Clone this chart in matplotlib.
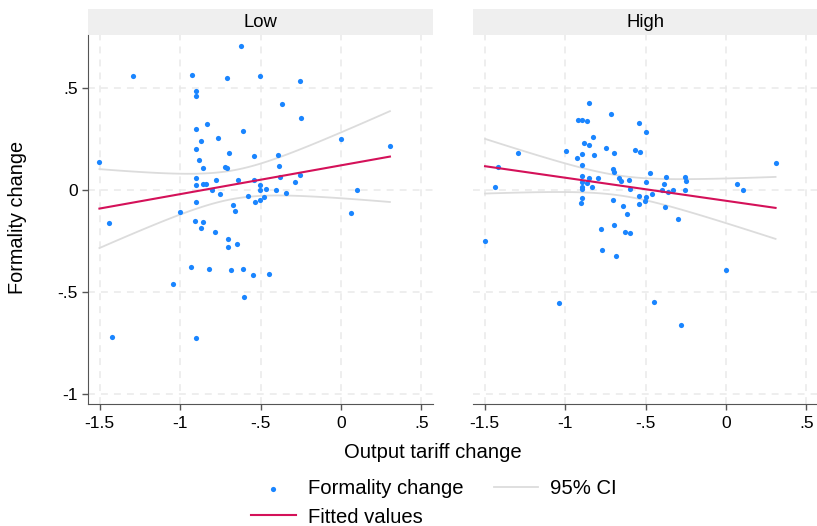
import numpy as np
import matplotlib
matplotlib.use("Agg")
import matplotlib.pyplot as plt
from matplotlib.patches import Rectangle

plt.rcParams['font.family'] = ['Liberation Sans', 'DejaVu Sans']

# Datos: cambio arancelario vs cambio de formalidad
low_tariff = [-0.620, -1.295, -0.924, -0.711, -0.502, -0.902, -0.902, -0.256, -0.368, -0.249,
              -0.902, -0.833, -0.610, -0.868, -0.763, -0.001, 0.305, -0.902, -0.699, -0.543,
              -0.393, -1.502, -0.885, -0.856, -0.719, -0.707, -0.386, -0.902, -0.380, -0.256,
              -0.285, -0.902, -0.856, -0.842, -0.775, -0.637, -0.543, -0.502, -0.804, -0.506,
              -0.465, -0.403, -0.339, 0.098, -0.750, -0.575, -0.537, -0.502, -0.481, -0.902,
              -0.672, -0.657, -0.999, 0.063, -1.440, -0.908, -0.858, -0.871, -0.784, -0.703,
              -0.649, -0.703, -0.935, -0.823, -0.686, -0.606, -0.545, -0.448, -1.047, -0.601,
              -1.422, -0.902]
low_formality = [0.706, 0.557, 0.562, 0.546, 0.556, 0.485, 0.459, 0.531, 0.422, 0.351,
                 0.296, 0.322, 0.289, 0.239, 0.253, 0.247, 0.216, 0.199, 0.178, 0.167,
                 0.172, 0.134, 0.145, 0.105, 0.111, 0.105, 0.114, 0.059, 0.060, 0.074,
                 0.036, 0.025, 0.029, 0.029, 0.049, 0.049, 0.047, 0.023, 0.000, -0.002,
                 0.005, -0.002, -0.015, 0.000, -0.021, -0.029, -0.059, -0.050, -0.038, -0.062,
                 -0.075, -0.104, -0.111, -0.113, -0.165, -0.154, -0.159, -0.188, -0.206, -0.243,
                 -0.265, -0.279, -0.379, -0.389, -0.395, -0.389, -0.420, -0.415, -0.461, -0.525,
                 -0.724, -0.729]

high_tariff = [-0.850, -0.713, -0.918, -0.898, -0.866, -0.539, -0.496, -0.827, -0.881, -0.854,
               -0.744, -0.566, -0.533, -0.993, -1.291, -0.697, -0.898, -0.819, -0.929, 0.309,
               -0.898, -1.417, -0.705, -0.694, -0.475, -0.898, -0.850, -0.798, -0.666, -0.374,
               -0.252, -0.604, -0.653, -0.898, -0.862, -0.496, -0.245, -0.388, -0.834, -0.898,
               -1.436, -0.898, -0.595, -0.396, -0.332, -0.252, -0.363, 0.067, 0.104, -0.461,
               -0.539, -0.496, -0.898, -0.705, -0.502, -0.904, -0.539, -0.643, -0.378, -0.616,
               -0.297, -0.777, -0.694, -0.630, -0.599, -1.498, -0.771, -0.682, 0.003, -1.040,
               -0.446, -0.281]
high_formality = [0.426, 0.371, 0.343, 0.342, 0.337, 0.327, 0.281, 0.256, 0.230, 0.217,
                  0.204, 0.196, 0.186, 0.190, 0.180, 0.180, 0.173, 0.168, 0.157, 0.132,
                  0.119, 0.113, 0.101, 0.085, 0.082, 0.065, 0.059, 0.055, 0.055, 0.060,
                  0.060, 0.049, 0.041, 0.039, 0.034, 0.036, 0.043, 0.026, 0.015, 0.011,
                  0.015, 0.005, 0.001, 0.000, -0.002, 0.000, -0.011, 0.026, -0.003, -0.023,
                  -0.033, -0.038, -0.039, -0.049, -0.054, -0.064, -0.070, -0.078, -0.087, -0.119,
                  -0.145, -0.191, -0.173, -0.209, -0.214, -0.253, -0.296, -0.324, -0.391, -0.557,
                  -0.551, -0.665]

panel_titles = ['Low', 'High']
x_ticks = [-1.5, -1, -0.5, 0, 0.5]
x_ticklabels = ['-1.5', '-1', '-.5', '0', '.5']
y_ticks = [-1, -0.5, 0, 0.5]
y_ticklabels = ['-1', '-.5', '0', '.5']

dot_color = '#1a85ff'
fit_color = '#d41159'
ci_color = '#dcdcdc'
grid_color = '#e9e9e9'
axis_color = '#555555'


def ajuste_lineal(x, y, t_crit=1.994):
    """Recta MCO y banda de confianza al 95% para la media"""
    x = np.asarray(x)
    y = np.asarray(y)
    n = len(x)
    b, a = np.polyfit(x, y, 1)
    resid = y - (a + b * x)
    s = np.sqrt(np.sum(resid ** 2) / (n - 2))
    xs = np.linspace(x.min(), x.max(), 100)
    yhat = a + b * xs
    se = s * np.sqrt(1.0 / n + (xs - x.mean()) ** 2 / np.sum((x - x.mean()) ** 2))
    return xs, yhat, yhat - t_crit * se, yhat + t_crit * se


W, H = 817, 526
fig = plt.figure(figsize=(W / 100, H / 100), dpi=100)

top, bottom = 35, 404
panel_lefts = [88, 473]
panel_w = 345
datos = [(low_tariff, low_formality), (high_tariff, high_formality)]

handles = None
for i, (x, y) in enumerate(datos):
    ax = fig.add_axes([panel_lefts[i] / W, 1 - bottom / H, panel_w / W, (bottom - top) / H])
    ax.set_xlim(-1.573, 0.573)
    ax.set_ylim(-1.05, 0.758)

    for xt in x_ticks:
        ax.axvline(xt, color=grid_color, lw=1.1, ls=(0, (4.5, 4)), zorder=0)
    for yt in y_ticks:
        ax.axhline(yt, color=grid_color, lw=1.1, ls=(0, (4.5, 4)), zorder=0)

    xs, yhat, lo, hi = ajuste_lineal(x, y)
    ci1, = ax.plot(xs, hi, color=ci_color, lw=1.3, zorder=1)
    ax.plot(xs, lo, color=ci_color, lw=1.3, zorder=1)
    sc = ax.scatter(x, y, s=14, color=dot_color, linewidths=0, zorder=2)
    fit, = ax.plot(xs, yhat, color=fit_color, lw=1.5, zorder=3)
    handles = [sc, fit, ci1]

    ax.set_xticks(x_ticks)
    ax.set_xticklabels(x_ticklabels)
    ax.tick_params(axis='x', length=4.5, width=1, color=axis_color, pad=4, labelsize=12.5)
    for s in ['top', 'right']:
        ax.spines[s].set_visible(False)
    ax.spines['bottom'].set_color(axis_color)
    if i == 0:
        ax.set_yticks(y_ticks)
        ax.set_yticklabels(y_ticklabels)
        ax.tick_params(axis='y', length=4.5, width=1, color=axis_color, pad=3, labelsize=12.5)
        ax.spines['left'].set_color(axis_color)
    else:
        ax.spines['left'].set_visible(False)
        ax.set_yticks([])

    strip_h = 26 / (bottom - top)
    ax.add_patch(Rectangle((0, 1), 1, strip_h, transform=ax.transAxes,
                           facecolor='#efefef', edgecolor='none', clip_on=False))
    ax.text(0.5, 1 + strip_h / 2, panel_titles[i], transform=ax.transAxes,
            ha='center', va='center', fontsize=13.3)

fig.text(18 / W, 1 - 217 / H, 'Formality change', rotation=90,
         ha='center', va='center', fontsize=14.3)
fig.text(433 / W, 1 - 452 / H, 'Output tariff change', ha='center', va='center', fontsize=14.6)

fig.legend(handles, ['Formality change', 'Fitted values', '95% CI'], ncol=2,
           loc='center', bbox_to_anchor=(434 / W, 1 - 503 / H), frameon=False,
           fontsize=14.6, handlelength=2.2, handletextpad=0.6, columnspacing=1.5,
           labelspacing=0.45, scatterpoints=1, borderpad=0.2)

fig.savefig('out.png', dpi=100)
